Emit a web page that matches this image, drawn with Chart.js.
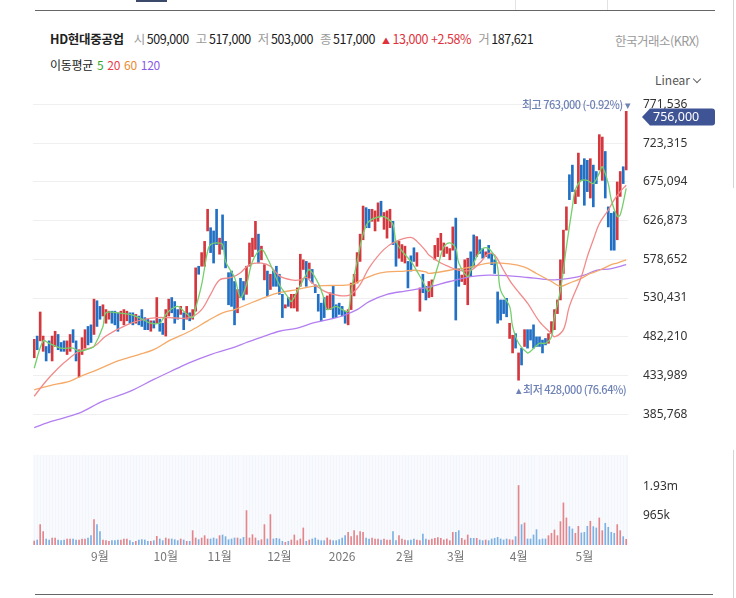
<!DOCTYPE html>
<html lang="ko">
<head>
<meta charset="utf-8">
<title>HD현대중공업 일봉 차트</title>
<script src="https://cdn.jsdelivr.net/npm/chart.js@4.4.1/dist/chart.umd.min.js"></script>
<style>
  html, body { margin: 0; padding: 0; background: #fff; }
  body { width: 736px; height: 598px; position: relative; overflow: hidden;
         font-family: 'Noto Sans CJK KR', 'Noto Sans', sans-serif; color: #222; }
  .abs { position: absolute; }
  #quote { left: 50px; top: 30px; font-size: 12.5px; line-height: 18px; white-space: nowrap; letter-spacing: -0.45px; }
  #quote b { font-weight: 700; margin-right: 10px; letter-spacing: -0.3px; }
  #quote .k { color: #9a9a9a; margin-right: 2px; }
  #quote .v { margin-right: 7px; color: #1a1a1a; }
  #quote .up { color: #e0323c; }
  #krx { left: 615px; top: 31px; font-size: 12.5px; color: #9a9a9a; letter-spacing: -0.5px; }
  #ma { left: 50px; top: 56px; font-size: 12px; line-height: 18px; letter-spacing: -0.3px; }
  #ma span { margin-left: 4px; }
  #scale { left: 655px; top: 71px; font-size: 12px; color: #555; }
  #chev { left: 694px; top: 76px; width: 5px; height: 5px; border-right: 1px solid #666; border-bottom: 1px solid #666; transform: rotate(45deg); }
  #volTitle { left: 50px; top: 459px; font-size: 12px; color: #333; font-family: 'Noto Sans', sans-serif; letter-spacing: -0.3px; }
</style>
</head>
<body>

<div class="abs" style="left:136px;top:0;width:31px;height:2px;background:#3b4a6b"></div>
<div class="abs" style="left:515px;top:0;width:1px;height:11px;background:#e2e2e2"></div>
<div class="abs" style="left:607px;top:0;width:1px;height:11px;background:#e2e2e2"></div>
<div class="abs" style="left:35px;top:10px;width:680px;height:1px;background:#666"></div>
<div class="abs" style="left:733px;top:0;width:1px;height:188px;background:#d5d5d5"></div>
<div class="abs" style="left:733px;top:450px;width:1px;height:148px;background:#d5d5d5"></div>
<div class="abs" style="left:35px;top:594px;width:678px;height:1px;background:#666"></div>

<div id="quote" class="abs"><b>HD현대중공업</b><span class="k">시</span><span class="v">509,000</span><span class="k">고</span><span class="v">517,000</span><span class="k">저</span><span class="v">503,000</span><span class="k">종</span><span class="v">517,000</span><span class="up" style="font-size:8px">▲</span> <span class="up">13,000</span> <span class="up v" style="color:#e0323c">+2.58%</span><span class="k">거</span><span class="v">187,621</span></div>
<div id="krx" class="abs">한국거래소(KRX)</div>
<div id="ma" class="abs">이동평균<span style="color:#2ea82e">5</span><span style="color:#e8414a">20</span><span style="color:#e98b2f">60</span><span style="color:#8a5be6">120</span></div>
<div id="scale" class="abs">Linear</div>
<div id="chev" class="abs"></div>
<div id="volTitle" class="abs">?VOLUME? <b>187,621</b></div>

<canvas id="priceChart" class="abs" style="left:0;top:84px;width:736px;height:364px" width="736" height="364"></canvas>
<canvas id="volChart" class="abs" style="left:0;top:447px;width:736px;height:125px" width="736" height="125"></canvas>

<script>
// 일봉 고가 / 저가 (천원) - 2025.7 말 ~ 2026.5 말, 199거래일
const highs = [
  479,483,513,483,470,477,483,489,485,475, 477,477,485,491,477,466,481,491,495,497,
  529,527,520,522,516,514,514,514,512,514, 516,514,512,512,510,508,516,506,504,502,
  502,531,504,499,516,529,531,526,516,520, 512,520,512,516,568,570,587,601,641,618,
  614,641,605,634,601,562,
  564,551,541,555,551,570,599,605,626,610, 595,572,564,560,564,570,560,535,522,531,
  535,535,543,585,578,576,574,566,547,535, 524,531,533,537,545,522,524,520,514,516,
  549,560,587,610,645,643,641,641,639,649, 651,637,639,641,626,601,601,597,595,576,
  583,593,587,543,560,545,551,
  553,596,605,611,599,594,592,619,630,567, 559,578,580,588,609,607,603,592,588,596,
  586,578,538,528,528,530,499,484,486,462, 468,491,491,491,497,482,482,478,480,486,
  501,516,528,578,615,644,684,696,665,711, 696,704,702,704,696,688,734,731,713,644,
  636,638,675,688,694,763
];
const lows = [
  456,466,477,464,452,462,452,470,466,464, 464,460,464,475,452,432,460,468,472,475,
  485,495,504,508,499,504,499,497,489,502, 497,502,499,497,499,497,495,491,491,489,
  493,499,489,485,483,508,512,499,504,510, 491,504,502,504,514,560,570,570,614,587,
  574,597,585,591,568,522,
  520,497,512,531,528,535,570,582,591,574, 578,553,533,541,545,545,535,506,518,520,
  518,518,514,545,566,545,555,549,537,514, 502,506,516,516,506,506,510,508,499,497,
  516,533,549,576,603,618,618,626,614,626, 632,616,605,618,597,570,580,576,574,543,
  564,576,570,514,537,528,531,
  532,578,582,590,582,586,578,590,503,545, 551,547,522,557,569,582,586,580,582,580,
  572,561,499,503,511,507,480,462,468,428, 447,470,468,478,468,470,470,462,472,474,
  486,491,511,528,561,615,653,663,648,657, 677,646,663,655,644,673,690,677,655,619,
  590,590,603,657,673,690
];
// 1 = 양봉(상승), 0 = 음봉(하락)
const dirs = [
  1,0,1,1,0,0,1,1,0,0, 0,1,1,0,0,1,1,1,0,0, 1,0,0,1,1,1,0,0,0,1, 1,1,0,0,1,0,0,0,0,1,
  0,1,0,0,1,1,0,0,0,1, 0,1,0,1,1,0,1,1,1,0, 0,0,1,0,0,0,
  0,0,1,0,0,1,1,1,1,0, 1,1,0,1,0,0,0,0,1,0, 1,1,1,1,1,0,1,0,0,0, 0,0,1,1,0,0,0,0,0,1,
  1,1,1,1,1,0,0,1,1,1, 0,1,1,1,0,0,1,1,1,0, 0,0,1,1,0,0,1,
  1,1,1,1,1,1,1,1,0,0, 1,1,1,0,0,1,0,0,1,0, 0,0,0,0,0,0,1,1,0,1, 0,1,0,0,0,0,0,0,0,1,
  1,1,1,1,1,1,0,0,1,1, 0,0,0,1,0,0,1,1,0,0, 0,0,1,1,0,1
];
// 거래량 (천주)
const volumeK = [
  132,165,671,440,198,165,231,231,165,143, 165,198,198,198,165,165,198,198,231,308,
  836,671,440,165,143,121,143,143,165,165, 198,198,143,88,121,165,176,165,121,121,
  143,286,198,143,231,198,198,176,143,198, 165,121,121,473,231,176,231,308,198,198,
  231,198,308,330,275,176,198,231,231,198, 253,1133,231,341,231,143,176,671,198,1001,
  198,220,198,121,88,121,165,330,143,198, 561,121,165,198,231,165,143,143,231,165,
  143,143,176,231,308,418,275,473,308,440, 418,231,198,231,198,198,165,198,165,165,
  440,143,308,198,165,143,165,198,165,143, 363,198,165,198,220,242,220,165,198,143,
  418,418,473,220,165,330,220,220,220,165, 143,165,143,198,220,253,198,165,198,176,
  165,275,1958,671,726,198,198,330,506,176, 198,198,308,385,495,308,770,1386,891,605,
  528,385,616,396,418,616,781,605,561,891, 473,715,583,418,385,671,473,275,187.621
];

// 이동평균선 [거래일 인덱스, 천원]
const ma5 = [[0,443],[3,477],[5,474],[9,468],[13,468],[15,464],[19,468],[20,470],[23,495],[24,512],[28,512],[32,510],[35,506],[39,499],[42,499],[43,504],[45,514],[48,520],[50,514],[53,506],[54,518],[56,547],[58,589],[59,597],[61,599],[63,597],[64,576],[67,556],[69,531],[71,547],[73,576],[76,591],[78,580],[80,564],[82,547],[85,531],[86,526],[88,539],[91,560],[92,566],[95,549],[97,529],[98,516],[101,520],[103,516],[105,514],[106,539],[108,576],[110,610],[112,626],[116,632],[118,630],[120,622],[121,601],[123,589],[126,576],[128,564],[130,551],[132,539],[135,570],[137,594],[139,599],[141,592],[142,574],[145,557],[146,565],[148,582],[150,592],[152,592],[154,582],[155,569],[156,540],[159,520],[160,495],[162,474],[165,462],[166,464],[169,474],[171,474],[173,482],[174,507],[176,540],[178,594],[180,644],[181,665],[183,677],[185,677],[187,673],[189,686],[190,694],[192,673],[193,653],[195,632],[196,634],[198,667]];
const ma20 = [[0,408],[4,427],[8,443],[12,456],[15,464],[20,470],[24,483],[31,497],[37,504],[41,506],[45,506],[52,506],[56,516],[59,535],[62,553],[66,556],[69,562],[72,572],[76,574],[79,570],[82,558],[86,553],[89,553],[91,556],[93,549],[97,539],[100,535],[103,533],[106,535],[109,547],[112,568],[117,591],[121,601],[126,606],[128,601],[131,589],[132,584],[136,574],[139,569],[142,565],[146,565],[149,574],[152,586],[154,584],[157,565],[160,547],[165,524],[169,501],[173,486],[174,482],[177,491],[179,520],[183,557],[185,582],[187,603],[189,623],[192,640],[194,653],[196,663],[198,671]];
const ma60 = [[0,416],[5,421],[12,427],[15,432],[21,441],[28,452],[35,460],[40,466],[45,477],[52,489],[58,502],[63,512],[67,516],[71,522],[77,531],[82,537],[88,541],[93,545],[99,546],[106,547],[109,552],[114,560],[118,563],[124,564],[127,565],[131,563],[132,561],[139,565],[146,569],[152,574],[159,573],[164,569],[168,561],[173,551],[176,545],[179,549],[183,555],[186,561],[189,565],[193,572],[195,574],[198,578]];
const ma120 = [[0,369],[6,377],[15,387],[23,402],[32,414],[40,429],[48,443],[52,450],[59,460],[66,468],[71,475],[77,483],[82,489],[88,493],[93,499],[99,504],[103,508],[108,516],[112,526],[118,535],[124,539],[129,542],[132,544],[139,551],[146,557],[152,559],[159,558],[165,556],[170,554],[174,553],[179,555],[184,559],[188,565],[193,567],[198,572]];

const lastClose = 756000;
const yTicks = [385768, 433989, 482210, 530431, 578652, 626873, 675094, 723315, 771536];
const monthIdx = [22, 44, 62, 82, 103, 124, 141, 162, 184];
const monthNames = ['9월', '10월', '11월', '12월', '2026', '2월', '3월', '4월', '5월'];
const volTicks = [965, 1930];
const volLabels = ['965k', '1.93m'];

const UP = '#d4383f', DOWN = '#2270c4';
const tickFont = { family: "'Noto Sans', sans-serif", size: 12 };

// 캔들: 저가~고가 플로팅 바
const candles = highs.map((h, i) => ({ x: i, y: [lows[i] * 1000, h * 1000] }));
const toPts = arr => arr.map(p => ({ x: p[0], y: p[1] * 1000 }));

function maLine(arr, color) {
    return { type: 'line', data: toPts(arr), borderColor: color, borderWidth: 1.3,
             pointRadius: 0, tension: 0.35, order: 0 };
}

// 최고/최저 표시와 현재가 태그
const priceMarks = {
    id: 'priceMarks',
    afterDatasetsDraw(chart) {
        const { ctx, scales: { x, y } } = chart;
        const iMax = highs.indexOf(Math.max(...highs));
        const iMin = lows.indexOf(Math.min(...lows));
        const hi = highs[iMax] * 1000, lo = lows[iMin] * 1000;
        const pctHi = ((lastClose - hi) / hi * 100).toFixed(2);
        const pctLo = ((lastClose - lo) / lo * 100).toFixed(2);
        ctx.save();
        ctx.font = "500 11px 'Noto Sans CJK KR', sans-serif";
        ctx.letterSpacing = '-0.5px';
        ctx.fillStyle = '#6f82b6';
        ctx.textBaseline = 'middle';
        ctx.textAlign = 'right';
        ctx.fillText('최고 ' + hi.toLocaleString('en-US') + ' (' + pctHi + '%) ▾', x.getPixelForValue(iMax) + 4, y.getPixelForValue(hi) - 7);
        ctx.textAlign = 'left';
        ctx.fillText('▴ 최저 ' + lo.toLocaleString('en-US') + ' (' + pctLo + '%)', x.getPixelForValue(iMin) - 3, y.getPixelForValue(lo) + 10);

        // 현재가 태그
        const ty = y.getPixelForValue(lastClose);
        ctx.letterSpacing = '0px';
        ctx.fillStyle = '#3e5494';
        ctx.beginPath();
        ctx.moveTo(642, ty);
        ctx.lineTo(650, ty - 8.5);
        ctx.lineTo(712, ty - 8.5);
        ctx.quadraticCurveTo(715, ty - 8.5, 715, ty - 5.5);
        ctx.lineTo(715, ty + 5.5);
        ctx.quadraticCurveTo(715, ty + 8.5, 712, ty + 8.5);
        ctx.lineTo(650, ty + 8.5);
        ctx.closePath();
        ctx.fill();
        ctx.fillStyle = '#fff';
        ctx.font = "12.5px 'Noto Sans', sans-serif";
        ctx.fillText(lastClose.toLocaleString('en-US'), 653, ty + 0.5);
        ctx.restore();
    }
};

new Chart(document.getElementById('priceChart'), {
    type: 'bar',
    data: {
        datasets: [
            maLine(ma5, '#74cf6c'),
            maLine(ma20, '#f28a8a'),
            maLine(ma60, '#f5aa68'),
            maLine(ma120, '#b37ff0'),
            { type: 'bar', data: candles, barThickness: 2, order: 5,
              backgroundColor: dirs.map(d => d ? UP : DOWN) }
        ]
    },
    options: {
        responsive: false, animation: false, events: [],
        layout: { padding: { left: 33, top: 8, bottom: 8, right: 0 } },
        plugins: { legend: { display: false }, tooltip: { enabled: false } },
        scales: {
            x: { type: 'linear', min: -0.4, max: 198.6, offset: false, display: false,
                 grid: { offset: false } },
            y: {
                position: 'right', min: 353503, max: 787111,
                afterFit: s => { s.width = 108; },
                afterBuildTicks: s => { s.ticks = yTicks.map(v => ({ value: v })); },
                ticks: { padding: 0, color: '#333', font: tickFont,
                         callback: v => v.toLocaleString('en-US') },
                grid: { color: '#efefef', tickLength: 15, tickColor: 'rgba(0,0,0,0)' },
                border: { display: false }
            }
        }
    },
    plugins: [priceMarks]
});

// 거래량 패널 배경 (세로 줄무늬)
const volPanel = {
    id: 'volPanel',
    beforeDatasetsDraw(chart) {
        const { ctx, chartArea: a, scales: { x } } = chart;
        ctx.save();
        ctx.fillStyle = '#f2f5fa';
        ctx.fillRect(a.left, a.top, a.right - a.left, a.bottom - a.top);
        ctx.fillStyle = '#ffffff';
        for (let i = 0; i < volumeK.length; i++) {
            ctx.fillRect(Math.round(x.getPixelForValue(i)) - 1.5, a.top, 1, a.bottom - a.top);
        }
        ctx.restore();
    }
};

new Chart(document.getElementById('volChart'), {
    type: 'bar',
    data: {
        datasets: [{
            data: volumeK.map((v, i) => ({ x: i, y: v })),
            backgroundColor: dirs.map(d => d ? '#e3868c' : '#7db0e3'),
            barThickness: 1
        }]
    },
    options: {
        responsive: false, animation: false, events: [],
        layout: { padding: { left: 33, top: 8, bottom: 5, right: 0 } },
        plugins: { legend: { display: false }, tooltip: { enabled: false } },
        scales: {
            x: {
                type: 'linear', min: -0.4, max: 198.6, offset: false,
                afterFit: s => { s.height = 22; },
                afterBuildTicks: s => { s.ticks = monthIdx.map(v => ({ value: v })); },
                ticks: { padding: 4, color: '#777', maxRotation: 0, autoSkip: false,
                         font: { family: "'Noto Sans CJK KR', sans-serif", size: 12 },
                         callback: (v, i) => monthNames[i] },
                grid: { display: false, drawTicks: false, offset: false }, border: { display: false }
            },
            y: {
                position: 'right', min: 0, max: 2961,
                afterFit: s => { s.width = 108; },
                afterBuildTicks: s => { s.ticks = volTicks.map(v => ({ value: v })); },
                ticks: { padding: 0, color: '#333', font: tickFont,
                         callback: (v, i) => volLabels[i] },
                grid: { display: false, tickLength: 15 }, border: { display: false }
            }
        }
    },
    plugins: [volPanel]
});
</script>
</body>
</html>
